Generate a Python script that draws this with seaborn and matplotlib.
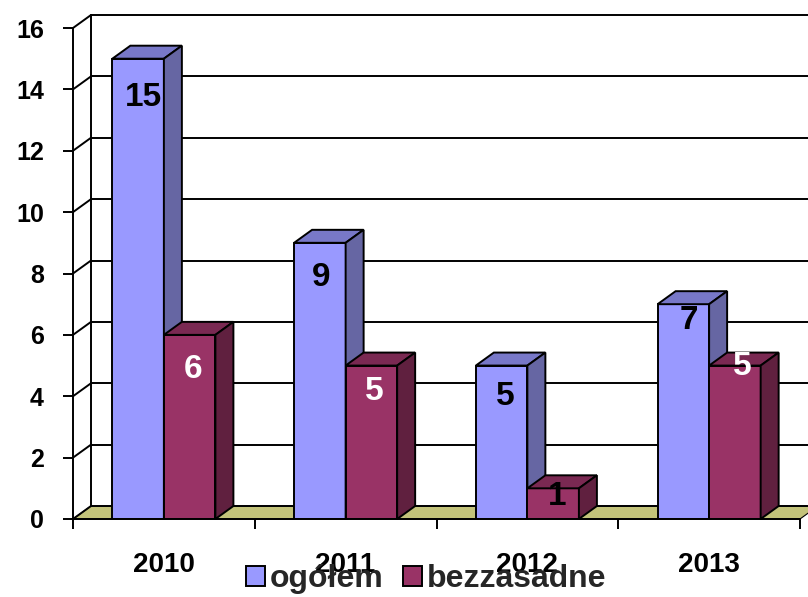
import matplotlib
matplotlib.use("Agg")
import matplotlib.pyplot as plt
from matplotlib.patches import Polygon, Patch, Rectangle
import seaborn as sns
import pandas as pd

# ---- data ----
years = ["2010", "2011", "2012", "2013"]
series = ["ogółem", "bezzasadne"]
ogolem = [15, 9, 5, 7]
bezzasadne = [6, 5, 1, 5]
yticks = [0, 2, 4, 6, 8, 10, 12, 14, 16]

# ---- style ----
sns.set_style("white")
plt.rcParams["font.family"] = ["Liberation Sans", "DejaVu Sans"]
plt.rcParams["font.weight"] = "bold"

front = ["#9999FF", "#993366"]
top = ["#7878C8", "#7A2952"]
side = ["#6666A3", "#60203F"]
floor_col = "#C3C37A"
label_colors = [["black"] * 4, ["white", "white", "black", "white"]]
label_dy_px = [[39, 35, 31, 16], [35, 26, 8, 1]]
label_dx_px = [[5, 1, 4, 6], [3, 3, 4, 7]]

W, H = 808, 597
fig = plt.figure(figsize=(W / 100, H / 100), dpi=100)
ax_l, ax_r, ax_b, ax_t = 73, 800, 519, 28
ax = fig.add_axes([ax_l / W, (H - ax_b) / H, (ax_r - ax_l) / W, (ax_b - ax_t) / H])

df = pd.DataFrame({
    "rok": years * 2,
    "seria": [series[0]] * 4 + [series[1]] * 4,
    "wartosc": ogolem + bezzasadne,
})

sns.barplot(data=df, x="rok", y="wartosc", hue="seria", hue_order=series,
            palette=front, width=0.567, edgecolor="black", linewidth=1.4,
            saturation=1, ax=ax, legend=False)
bars = [p for p in ax.patches if isinstance(p, Rectangle) and p.get_height() > 0]

ax.set_xlim(-0.5, 3.5)
ax.set_ylim(0, 16)

px_x = (ax_r - ax_l) / 4.0        # pixels per category unit
px_y = (ax_b - ax_t) / 16.0       # pixels per value unit
dx = 18 / px_x
dy = 13 / px_y

# back wall gridlines and left wall diagonals
for v in yticks:
    ax.plot([-0.5 + dx, 3.5 + dx + 0.3], [v + dy, v + dy], color="black",
            lw=1.4, clip_on=False, zorder=1.5)
    ax.plot([-0.5, -0.5 + dx], [v, v + dy], color="black", lw=1.4,
            clip_on=False, zorder=1.5)
ax.plot([-0.5 + dx, -0.5 + dx], [dy, 16 + dy], color="black", lw=1.4,
        clip_on=False, zorder=1.5)

# floor
ax.add_patch(Polygon([(-0.5, 0), (3.5, 0), (3.5 + dx, dy), (-0.5 + dx, dy)],
                     closed=True, facecolor=floor_col, edgecolor="black",
                     lw=0.8, clip_on=False, zorder=1.2))

# 3D faces for bars
for i, p in enumerate(bars):
    s = 0 if i < 4 else 1
    z = 3 + s
    p.set_zorder(z)
    x0 = p.get_x()
    x1 = x0 + p.get_width()
    h = p.get_height()
    ax.add_patch(Polygon([(x0, h), (x1, h), (x1 + dx, h + dy), (x0 + dx, h + dy)],
                         closed=True, facecolor=top[s], edgecolor="black",
                         lw=1.4, zorder=z, clip_on=False))
    ax.add_patch(Polygon([(x1, 0), (x1, h), (x1 + dx, h + dy), (x1 + dx, dy)],
                         closed=True, facecolor=side[s], edgecolor="black",
                         lw=1.4, zorder=z, clip_on=False))
    j = i % 4
    ax.text((x0 + x1) / 2 + label_dx_px[s][j] / px_x,
            h - label_dy_px[s][j] / px_y,
            str(int(round(h))), ha="center", va="center", fontsize=24,
            fontweight="bold", color=label_colors[s][j], zorder=10)

# axes styling
for sp in ["top", "right"]:
    ax.spines[sp].set_visible(False)
for sp in ["left", "bottom"]:
    ax.spines[sp].set_color("black")
    ax.spines[sp].set_linewidth(1.4)
    ax.spines[sp].set_zorder(6)

ax.set_yticks(yticks)
ax.set_yticklabels([str(v) for v in yticks])
ax.tick_params(axis="y", direction="out", length=7, width=1.4, color="black",
               labelsize=18, labelcolor="black", pad=14, left=True)
ax.set_xticks(range(4))
ax.set_xticklabels(years)
ax.set_xticks([-0.5, 0.5, 1.5, 2.5, 3.5], minor=True)
ax.tick_params(axis="x", which="major", length=0, labelsize=20,
               labelcolor="black", pad=24)
ax.tick_params(axis="x", which="minor", direction="out", length=7, width=1.4,
               color="black", bottom=True)
for t in ax.get_xticklabels() + ax.get_yticklabels():
    t.set_fontweight("bold")
ax.set_xlabel("")
ax.set_ylabel("")
ax.grid(False)
ax.set_facecolor("none")

handles = [Patch(facecolor=front[k], edgecolor="black", lw=1.4, label=series[k])
           for k in range(2)]
fig.legend(handles=handles, loc="lower center", bbox_to_anchor=(0.527, -0.022),
           ncol=2, frameon=False, handlelength=0.6, handleheight=0.6,
           handletextpad=0.15, columnspacing=0.6, borderpad=0,
           prop={"weight": "bold", "size": 23})

fig.savefig("out.png", dpi=100)
